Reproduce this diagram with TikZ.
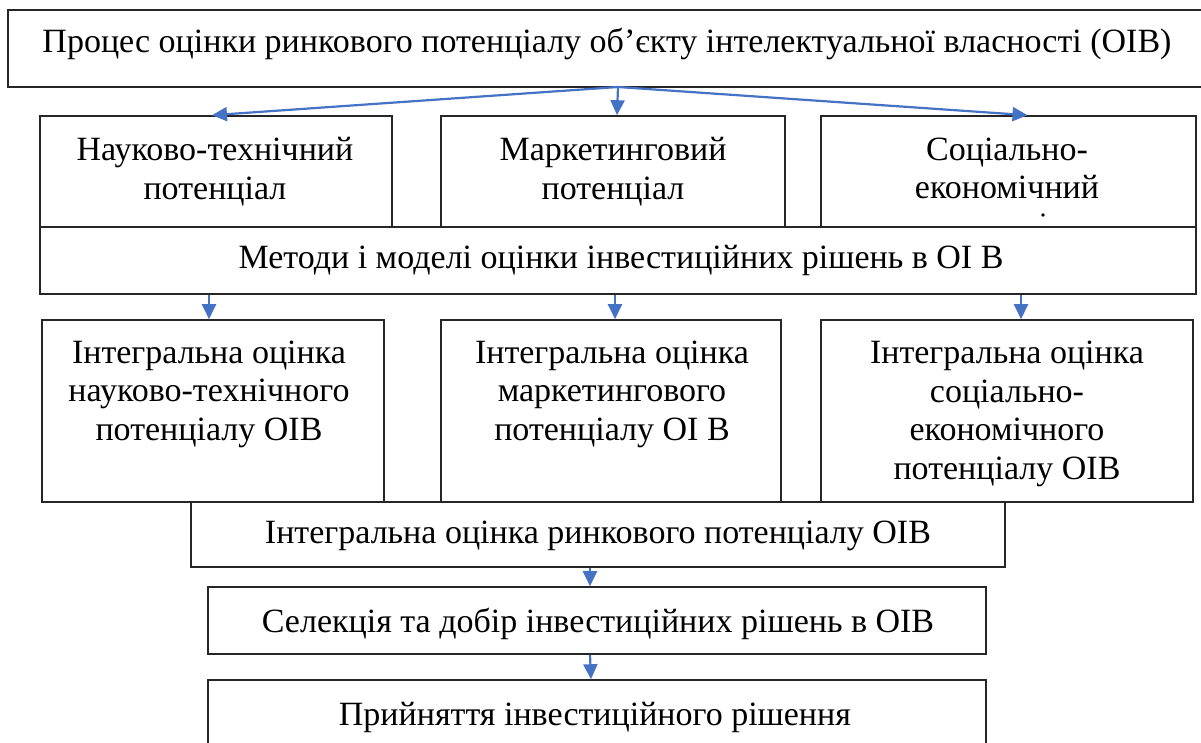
\documentclass[tikz,border=0pt]{standalone}
\usepackage{fontspec}
\setmainfont{Liberation Serif}
\usetikzlibrary{arrows.meta}
\definecolor{arrblue}{HTML}{4472C4}

\begin{document}
\begin{tikzpicture}[x=1pt,y=-1pt,>={Triangle[length=15pt,width=14pt]},
  box/.style={draw=black!85,line width=1.6pt,fill=white,inner sep=0pt},
  txt/.style={font=\fontsize{34}{38.5}\selectfont,align=center,inner sep=0pt},
  arr/.style={->,draw=arrblue,line width=2.2pt}]
  \useasboundingbox (0,0) rectangle (1201,742);
  % boxes
  \node[box,minimum width=1197pt,minimum height=77pt] (proc) at (606.5,48.5) {};
  \node[box,minimum width=352pt,minimum height=111pt] (nt) at (216,171.5) {};
  \node[box,minimum width=344pt,minimum height=111pt] (mk) at (613,171.5) {};
  \node[box,minimum width=375pt,minimum height=111pt] (se) at (1008.5,171.5) {};
  \node[box,minimum width=1156pt,minimum height=67pt] (meth) at (618,260.5) {};
  \node[box,minimum width=342pt,minimum height=182pt] (int1) at (213,411) {};
  \node[box,minimum width=340pt,minimum height=182pt] (int2) at (611,411) {};
  \node[box,minimum width=372pt,minimum height=182pt] (int3) at (1007,411) {};
  \node[box,minimum width=814pt,minimum height=65pt] (intm) at (598,534.5) {};
  \node[box,minimum width=778pt,minimum height=67pt] (sel) at (597,620.5) {};
  \node[box,minimum width=778pt,minimum height=90pt] (dec) at (597,725) {};
  % texts
  \node[txt,anchor=base] (proc-t) at (607,52) {Процес оцінки ринкового потенціалу об’єкту інтелектуальної власності (ОІВ)};
  \node[txt] (nt-t) at (215,171.5) {Науково-технічний\\потенціал};
  \node[txt] (mk-t) at (613,171.5) {Маркетинговий\\потенціал};
  \node[txt] (se-t) at (1007,168.5) {Соціально-\\економічний};
  \fill (1043,215) circle (1.8pt);
  \node[txt,anchor=base] (meth-t) at (621,268) {Методи і моделі оцінки інвестиційних рішень в ОІ В};
  \node[txt] (int1-t) at (209,394) {Інтегральна оцінка\\науково-технічного\\потенціалу ОІВ};
  \node[txt] (int2-t) at (612,394) {Інтегральна оцінка\\маркетингового\\потенціалу ОІ В};
  \node[txt] (int3-t) at (1007,414) {Інтегральна оцінка\\соціально-\\економічного\\потенціалу ОІВ};
  \node[txt,anchor=base] (intm-t) at (598,543) {Інтегральна оцінка ринкового потенціалу ОІВ};
  \node[txt,anchor=base] (sel-t) at (598,632) {Селекція та добір інвестиційних рішень в ОІВ};
  \node[txt,anchor=base] (dec-t) at (595,725) {Прийняття інвестиційного рішення};
  % arrows
  \coordinate (fork) at (618,87);
  \draw[arr] (fork) -- ([xshift=-4pt]nt.north);
  \draw[arr] (fork) -- ([xshift=4pt]mk.north);
  \draw[arr] (fork) -- ([xshift=19pt]se.north);
  \draw[arr] ([xshift=-409pt]meth.south) -- ([xshift=-4pt]int1.north);
  \draw[arr] ([xshift=-3pt]meth.south) -- ([xshift=4pt]int2.north);
  \draw[arr] ([xshift=403pt]meth.south) -- ([xshift=14pt]int3.north);
  \draw[arr] ([xshift=-8pt]intm.south) -- ([xshift=-7pt]sel.north);
  \draw[arr] ([xshift=-7pt]sel.south) -- ([xshift=-6pt]dec.north);
\end{tikzpicture}
\end{document}
